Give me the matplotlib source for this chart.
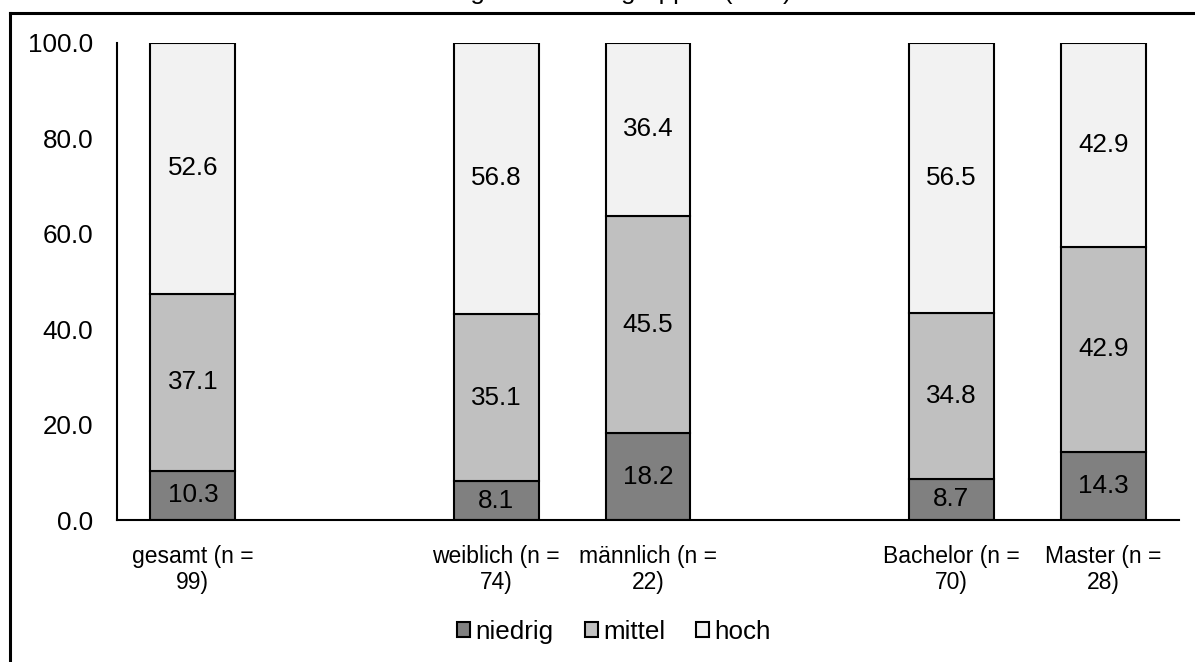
import numpy as np
import matplotlib.pyplot as plt
from matplotlib.lines import Line2D

plt.rcParams['font.family'] = ['Liberation Sans', 'DejaVu Sans']

# --- Data ---
groups = ['gesamt (n =\n99)', '', 'weiblich (n =\n74)', 'männlich (n =\n22)',
          '', 'Bachelor (n =\n70)', 'Master (n =\n28)']
niedrig = [10.3, 0, 8.1, 18.2, 0, 8.7, 14.3]
mittel = [37.1, 0, 35.1, 45.5, 0, 34.8, 42.9]
hoch = [52.6, 0, 56.8, 36.4, 0, 56.5, 42.9]
series = ['niedrig', 'mittel', 'hoch']
colors = ['#808080', '#c0c0c0', '#f2f2f2']

fs = 18.7

fig = plt.figure(figsize=(11.95, 6.62), dpi=100)
ax = fig.add_axes([117/1195, 1 - 520/662, (1179 - 117)/1195, (520 - 43)/662])

# --- Stacked bars (empty slots act as gaps between groups) ---
x = np.arange(len(groups))
real = [i for i, g in enumerate(groups) if g]
bottom = np.zeros(len(groups))
for name, vals, col in zip(series, [niedrig, mittel, hoch], colors):
    vals = np.array(vals, dtype=float)
    ax.bar(x[real], vals[real], bottom=bottom[real], width=0.56, color=col,
           edgecolor='black', linewidth=1.5, label=name)
    for i in real:
        ax.text(x[i], bottom[i] + vals[i] / 2, f'{vals[i]:.1f}',
                ha='center', va='center', fontsize=fs)
    bottom += vals

# --- Axes formatting ---
ax.set_xlim(-0.5, len(groups) - 0.5)
ax.set_ylim(0, 100)
ax.set_yticks(np.arange(0, 101, 20))
ax.set_yticklabels([f'{v:.1f}' for v in np.arange(0, 101, 20)], fontsize=fs)
ax.set_xticks(x)
ax.set_xticklabels(groups, fontsize=16.5, linespacing=1.15)
ax.tick_params(axis='both', length=0)
ax.tick_params(axis='y', pad=17)
ax.tick_params(axis='x', pad=18)
for s in ['top', 'right']:
    ax.spines[s].set_visible(False)
for s in ['left', 'bottom']:
    ax.spines[s].set_linewidth(1.5)

handles, labels = ax.get_legend_handles_labels()
fig.legend(handles, labels, loc='center', bbox_to_anchor=(614/1195, 1 - 632/662),
           ncol=3, frameon=False, fontsize=fs, handlelength=0.5, handleheight=0.5,
           handletextpad=0.2, columnspacing=1.2)

# --- Cropped title and outer frame ---
fig.text(580/1195, 1 + 1/662, 'Verteilung nach Altersgruppen (in %)',
         ha='center', va='baseline', fontsize=fs)
fig.add_artist(Line2D([10/1195, 1], [1 - 12.5/662, 1 - 12.5/662],
                      color='black', lw=2.2, transform=fig.transFigure))
fig.add_artist(Line2D([10/1195, 10/1195], [0, 1 - 12.5/662],
                      color='black', lw=2.2, transform=fig.transFigure))

fig.savefig('out.png', dpi=100)
